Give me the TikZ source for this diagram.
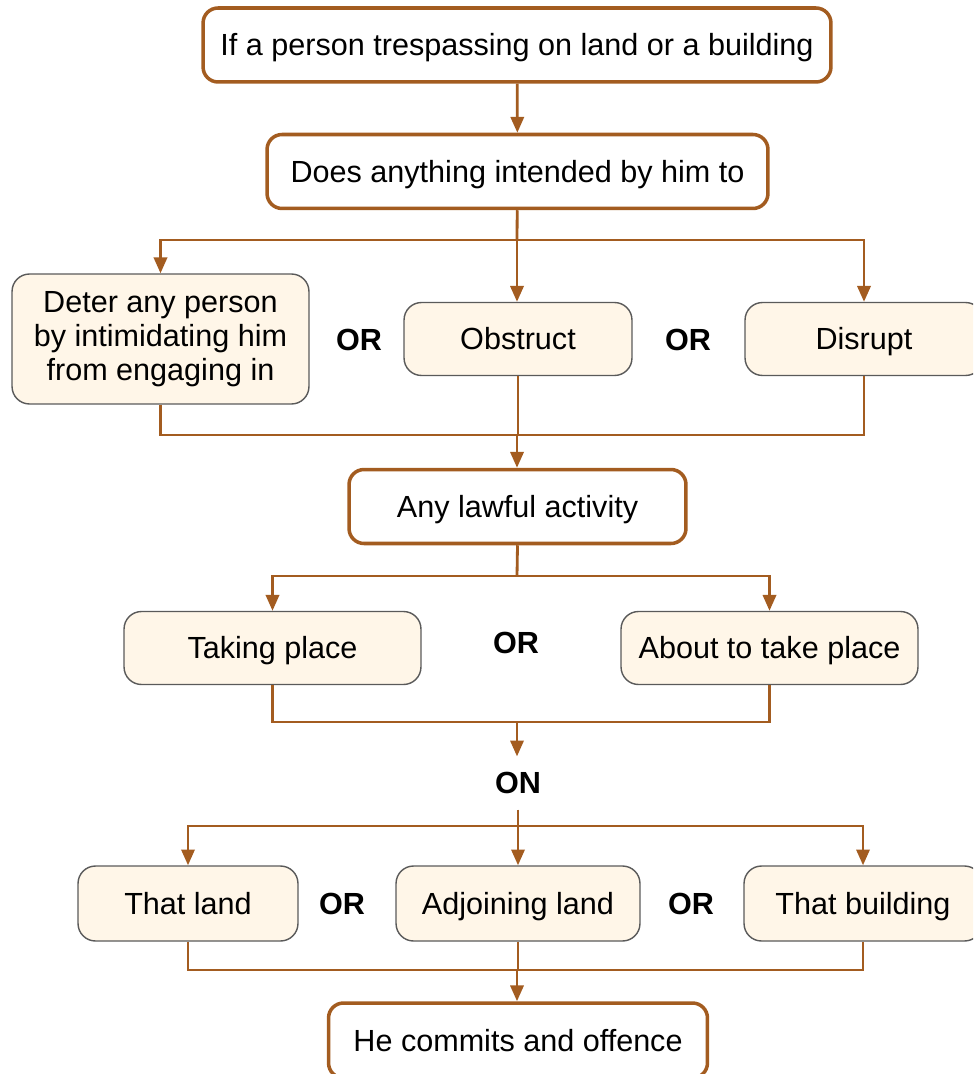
\documentclass[tikz,border=0pt]{standalone}
\usepackage{fontspec}
\setmainfont{Liberation Sans}
\usepackage{xcolor}
\usetikzlibrary{arrows.meta}

\definecolor{linkbrown}{RGB}{163,92,32}
\definecolor{optfill}{RGB}{255,246,232}
\definecolor{optedge}{RGB}{90,90,90}

\begin{document}
\begin{tikzpicture}[x=0.02cm, y=-0.02cm,
    every node/.style={font=\fontsize{17.4}{19.5}\selectfont},
    oneline/.style={text height=15.5pt, text depth=3pt},
    mainbox/.style={rectangle, oneline, draw=linkbrown, line width=2pt, fill=white, rounded corners=0.3cm, minimum height=1.48cm},
    optbox/.style={rectangle, oneline, draw=optedge, line width=0.8pt, fill=optfill, rounded corners=0.35cm, minimum height=1.46cm, align=center},
    orlabel/.style={oneline, font=\fontsize{17.4}{19.5}\selectfont\bfseries},
    link/.style={draw=linkbrown, line width=1.6pt},
    linkarrow/.style={link, -{Triangle[length=9pt, width=7.5pt]}}]
    \clip (0,0) rectangle (973,1074);

    \node[mainbox, minimum width=12.56cm] (person) at (517,45) {If a person trespassing on land or a building};
    \node[mainbox, minimum width=10.02cm] (does) at (517.5,171.5) {Does anything intended by him to};

    \node[optbox, text height=, text depth=, minimum width=5.94cm, minimum height=2.6cm] (deter) at (160.5,339) {Deter any person\\by intimidating him\\from engaging in};
    \node[orlabel] (or1) at (359,340) {OR};
    \node[optbox, minimum width=4.56cm] (obstruct) at (518,339) {Obstruct};
    \node[orlabel] (or2) at (688,340) {OR};
    \node[optbox, minimum width=4.76cm] (disrupt) at (864,339) {Disrupt};

    \node[mainbox, minimum width=6.74cm] (lawful) at (517.5,506.5) {Any lawful activity};

    \node[optbox, minimum width=5.94cm] (taking) at (272.5,648) {Taking place};
    \node[orlabel] (or3) at (516,643) {OR};
    \node[optbox, minimum width=5.94cm] (about) at (769.5,648) {About to take place};

    \node[orlabel, inner sep=0.2cm] (on) at (518,783) {ON};

    \node[optbox, minimum width=4.4cm, minimum height=1.5cm] (thatland) at (188,903.5) {That land};
    \node[orlabel] (or4) at (342,904) {OR};
    \node[optbox, minimum width=4.88cm, minimum height=1.5cm] (adjoining) at (518,903.5) {Adjoining land};
    \node[orlabel] (or5) at (691,904) {OR};
    \node[optbox, minimum width=4.76cm, minimum height=1.5cm] (building) at (863,903.5) {That building};

    \node[mainbox, minimum width=7.58cm, minimum height=1.5cm] (offence) at (518,1040.5) {He commits and offence};

    \coordinate (split1) at (517,240);
    \coordinate (join1) at (517,435);
    \coordinate (split2) at (517,576);
    \coordinate (join2) at (517,722);
    \coordinate (split3) at (518,826);
    \coordinate (join3) at (517,970);

    \draw[linkarrow] (person) -- (does);
    \draw[link] (does) -- (split1);
    \draw[linkarrow] (split1) -| (deter.north);
    \draw[linkarrow] (split1) -- (split1 |- obstruct.north);
    \draw[linkarrow] (split1) -| (disrupt.north);

    \draw[link] (deter.south) |- (join1) -| (disrupt.south);
    \draw[link] (obstruct.south) -- (obstruct.south |- join1);
    \draw[linkarrow] (join1) -- (join1 |- lawful.north);

    \draw[link] (lawful.south) -- (split2);
    \draw[linkarrow] (split2) -| (taking.north);
    \draw[linkarrow] (split2) -| (about.north);

    \draw[link] (taking.south) |- (join2) -| (about.south);
    \draw[linkarrow] (join2) -- (join2 |- on.north);

    \draw[link] (on.south) -- (split3);
    \draw[linkarrow] (split3) -| (thatland.north);
    \draw[linkarrow] (split3) -- (adjoining.north);
    \draw[linkarrow] (split3) -| (building.north);

    \draw[link] (thatland.south) |- (join3) -| (building.south);
    \draw[link] (adjoining.south) -- (adjoining.south |- join3);
    \draw[linkarrow] (join3) -- (join3 |- offence.north);
\end{tikzpicture}
\end{document}
